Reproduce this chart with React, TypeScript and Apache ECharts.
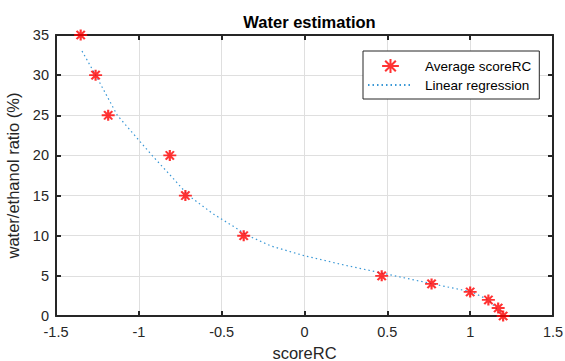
import React, { useEffect, useRef } from "react";
import * as echarts from "echarts";

const title = "Water estimation";
const xName = "scoreRC";
const yName = "water/ethanol ratio (%)";
const seriesNames = ["Average scoreRC", "Linear regression"];

const scoreX = [-1.351, -1.261, -1.185, -0.813, -0.719, -0.367, 0.466, 0.767, 1.0, 1.11, 1.169, 1.199];
const ratioY = [35, 30, 25, 20, 15, 10, 5, 4, 3, 2, 1, 0];

const fitX = [-1.343, -1.25, -1.13, -1.0, -0.92, -0.8, -0.7, -0.55, -0.44, -0.34, -0.2, 0, 0.25, 0.5, 0.82, 1.01, 1.11, 1.16, 1.2];
const fitY = [33.0, 29.6, 25.0, 21.9, 20.0, 17.3, 15.0, 12.7, 11.3, 10.0, 8.7, 7.5, 6.3, 5.2, 3.8, 3.0, 2.0, 0.9, 0.3];

const xMin = -1.5, xMax = 1.5, xStep = 0.5;
const yMin = 0, yMax = 35, yStep = 5;

const STAR = "path://M0,6 L12,6 M6,1 L6,11 M2.2,2.2 L9.8,9.8 M9.8,2.2 L2.2,9.8";
const FONT = "Liberation Sans, Arial, Helvetica, sans-serif";
const DARK = "#262626";

export default function App() {
  const ref = useRef<HTMLDivElement>(null);
  useEffect(() => {
    if (!ref.current) return;
    const chart = echarts.init(ref.current, undefined, { renderer: "svg" });
    const axisCommon = {
      axisLine: { show: true, onZero: false, lineStyle: { color: DARK, width: 2 } },
      axisTick: { show: true, inside: true, length: 5, lineStyle: { color: DARK, width: 2 } },
    };
    chart.setOption({
      animation: false,
      backgroundColor: "#ffffff",
      textStyle: { fontFamily: FONT },
      title: {
        text: title,
        left: 304.5,
        textAlign: "center",
        top: 8,
        textStyle: { fontFamily: FONT, fontWeight: "bold", fontSize: 16.5, color: "#000" },
      },
      grid: { left: 56, right: 12, top: 35, bottom: 45, containLabel: false, outerBoundsMode: "none" },
      legend: {
        orient: "vertical",
        left: 363,
        top: 51,
        padding: [7, 8, 7, 4],
        itemGap: 4,
        itemWidth: 45,
        itemHeight: 14,
        borderColor: DARK,
        borderWidth: 1,
        backgroundColor: "#fff",
        textStyle: { fontFamily: FONT, fontSize: 13.5, color: "#000", padding: [0, 0, 0, 7] },
        data: [
          { name: seriesNames[0] },
          { name: seriesNames[1], itemStyle: { color: "rgba(0,0,0,0)", borderWidth: 0, opacity: 0 } },
        ],
      },
      xAxis: [
        {
          type: "value",
          min: xMin,
          max: xMax,
          interval: xStep,
          position: "bottom",
          name: xName,
          nameLocation: "middle",
          nameGap: 28,
          nameTextStyle: { fontFamily: FONT, fontSize: 16.5, color: DARK },
          ...axisCommon,
          axisLabel: { margin: 8, fontFamily: FONT, fontSize: 14.5, color: DARK },
          splitLine: { show: true, lineStyle: { color: "#dfdfdf", width: 1 } },
        },
        {
          type: "value",
          min: xMin,
          max: xMax,
          interval: xStep,
          position: "top",
          ...axisCommon,
          axisLabel: { show: false },
          splitLine: { show: false },
        },
      ],
      yAxis: [
        {
          type: "value",
          min: yMin,
          max: yMax,
          interval: yStep,
          position: "left",
          name: yName,
          nameLocation: "middle",
          nameGap: 24,
          nameTextStyle: { fontFamily: FONT, fontSize: 16.5, color: DARK },
          ...axisCommon,
          axisLabel: { margin: 7, fontFamily: FONT, fontSize: 14.5, color: DARK },
          splitLine: { show: true, lineStyle: { color: "#dfdfdf", width: 1 } },
        },
        {
          type: "value",
          min: yMin,
          max: yMax,
          interval: yStep,
          position: "right",
          ...axisCommon,
          axisLabel: { show: false },
          splitLine: { show: false },
        },
      ],
      series: [
        {
          name: seriesNames[0],
          type: "scatter",
          symbol: STAR,
          symbolSize: [13, 11],
          itemStyle: { color: "rgba(0,0,0,0)", borderColor: "#ff0000", borderWidth: 2 },
          data: scoreX.map((x, i) => [x, ratioY[i]]),
          z: 5,
        },
        {
          name: seriesNames[1],
          type: "line",
          symbol: "none",
          lineStyle: { color: "#3a98d6", width: 1.2, type: [1.5, 3] },
          data: fitX.map((x, i) => [x, fitY[i]]),
          z: 4,
        },
      ],
    });
    return () => chart.dispose();
  }, []);
  return <div ref={ref} style={{ width: 565, height: 361, position: "absolute", left: 0, top: 0 }} />;
}
